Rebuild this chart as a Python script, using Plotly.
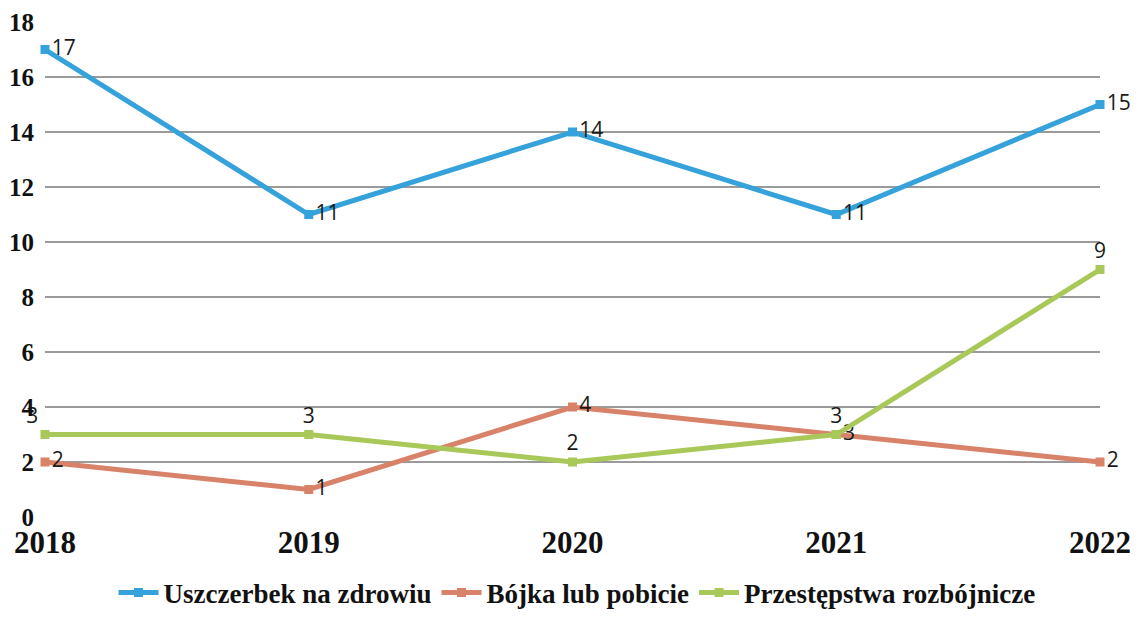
import plotly.graph_objects as go

years = [2018, 2019, 2020, 2021, 2022]
year_labels = ["2018", "2019", "2020", "2021", "2022"]
uszczerbek = [17, 11, 14, 11, 15]
bojka = [2, 1, 4, 3, 2]
rozboj = [3, 3, 2, 3, 9]
names = ["Uszczerbek na zdrowiu", "Bójka lub pobicie", "Przestępstwa rozbójnicze"]
colors = ["#35A2DB", "#D9826A", "#A8C85A"]
y_ticks = [0, 2, 4, 6, 8, 10, 12, 14, 16, 18]

label_font = dict(family="Open Sans, Liberation Sans, sans-serif", size=21, color="#1a1a1a")

fig = go.Figure()
fig.add_trace(go.Scatter(
    x=years, y=uszczerbek, name=names[0], mode="lines+markers+text",
    line=dict(color=colors[0], width=5), marker=dict(symbol="square", size=9, color=colors[0]),
    text=[str(v) for v in uszczerbek], textposition="middle right",
    textfont=label_font, cliponaxis=False))
fig.add_trace(go.Scatter(
    x=years, y=bojka, name=names[1], mode="lines+markers+text",
    line=dict(color=colors[1], width=5), marker=dict(symbol="square", size=9, color=colors[1]),
    text=[str(v) for v in bojka], textposition="middle right",
    textfont=label_font, cliponaxis=False))
fig.add_trace(go.Scatter(
    x=years, y=rozboj, name=names[2], mode="lines+markers+text",
    line=dict(color=colors[2], width=5), marker=dict(symbol="square", size=9, color=colors[2]),
    text=[str(v) for v in rozboj],
    textposition=["top left", "top center", "top center", "top center", "top center"],
    textfont=label_font, cliponaxis=False))

fig.update_layout(
    width=1138, height=617,
    margin=dict(l=37, r=46, t=14, b=108, autoexpand=False),
    paper_bgcolor="white", plot_bgcolor="white",
    xaxis=dict(
        range=[2018, 2022], tickvals=years, ticktext=year_labels,
        showgrid=False, zeroline=False, showline=False, automargin=False,
        tickfont=dict(family="Liberation Serif, serif", size=31, color="#111", weight="bold"),
        ticks="", ticklabelstandoff=4,
    ),
    yaxis=dict(
        range=[0, 18], tickvals=y_ticks, showgrid=True, gridcolor="#9a9a9a", gridwidth=1.5,
        zeroline=False, showline=False, automargin=False,
        tickfont=dict(family="Liberation Serif, serif", size=25, color="#111", weight="bold"),
        ticks="", ticklabelstandoff=10,
    ),
    legend=dict(
        orientation="h", x=0.5, xanchor="center", xref="container",
        y=0.052, yanchor="middle", yref="container",
        font=dict(family="Liberation Serif, serif", size=27, color="#111", weight="bold"),
        itemwidth=40, tracegroupgap=0,
    ),
)

fig.write_html("out.html")
